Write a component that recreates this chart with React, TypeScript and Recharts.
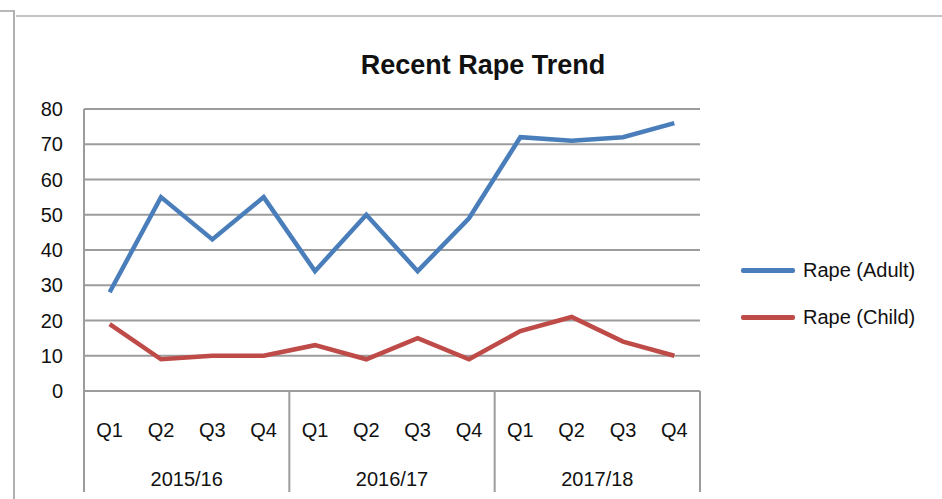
import { LineChart, Line, XAxis, YAxis, CartesianGrid } from 'recharts'

const quarters = ['Q1', 'Q2', 'Q3', 'Q4', 'Q1', 'Q2', 'Q3', 'Q4', 'Q1', 'Q2', 'Q3', 'Q4']
const years = ['2015/16', '2016/17', '2017/18']
const adult = [28, 55, 43, 55, 34, 50, 34, 49, 72, 71, 72, 76]
const child = [19, 9, 10, 10, 13, 9, 15, 9, 17, 21, 14, 10]
const yTicks = [0, 10, 20, 30, 40, 50, 60, 70, 80]

const series = [
  { key: 'adult', name: 'Rape (Adult)', color: '#4a7ebb' },
  { key: 'child', name: 'Rape (Child)', color: '#be4b48' },
]

const data = quarters.map((q, i) => ({
  q,
  year: years[Math.floor(i / 4)],
  adult: adult[i],
  child: child[i],
}))

const FONT = '"Liberation Sans", Arial, sans-serif'
const GRID = '#9c9c9c'
const Q_AXIS_H = 60
const PLOT_W = 616
// half of one category band, Excel-style points sit in the middle of each band
const HALF_BAND = PLOT_W / quarters.length / 2

const QuarterTick = (props: any) => {
  const { x, y, payload } = props
  return (
    <text x={x} y={y + 46} textAnchor="middle" fontSize={20} fill="#111" fontFamily={FONT}>
      {payload.value}
    </text>
  )
}

const YearTick = (props: any) => {
  const { x, y, index } = props
  const off = HALF_BAND
  return (
    <g>
      {index % 4 === 0 && (
        <line x1={x - off} x2={x - off} y1={y - Q_AXIS_H} y2={y + 41} stroke={GRID} strokeWidth={2} />
      )}
      {index === quarters.length - 1 && (
        <line x1={x + off} x2={x + off} y1={y - Q_AXIS_H} y2={y + 41} stroke={GRID} strokeWidth={2} />
      )}
      {index % 4 === 1 && (
        <text x={x + off} y={y + 35} textAnchor="middle" fontSize={20} fill="#111" fontFamily={FONT}>
          {years[Math.floor(index / 4)]}
        </text>
      )}
    </g>
  )
}

export default function App() {
  return (
    <div style={{ position: 'fixed', left: 0, top: 0, width: 942, height: 499, background: '#fff', fontFamily: FONT }}>
      {/* outer frame */}
      <div style={{ position: 'absolute', left: 0, top: 10, width: 15, height: 2, background: '#b8b8b8' }} />
      <div style={{ position: 'absolute', left: 13, top: 10, width: 2, height: 489, background: '#b0b0b0' }} />
      <div style={{ position: 'absolute', left: 16, top: 15, width: 926, height: 2, background: '#c4c4c4' }} />
      <div
        style={{
          position: 'absolute',
          left: 0,
          width: 966,
          top: 50,
          textAlign: 'center',
          fontSize: 27,
          fontWeight: 'bold',
          color: '#111',
        }}
      >
        Recent Rape Trend
      </div>
      <div style={{ position: 'absolute', left: 741, top: 247 }}>
        {series.map((s) => (
          <div key={s.key} style={{ display: 'flex', alignItems: 'center', height: 47 }}>
            <div style={{ width: 54, height: 5, background: s.color, borderRadius: 2, marginRight: 8 }} />
            <span style={{ fontSize: 20, color: '#111' }}>{s.name}</span>
          </div>
        ))}
      </div>
      <LineChart width={942} height={499} data={data} margin={{ top: 109, right: 242, bottom: 0, left: 0 }}>
        <CartesianGrid xAxisId="q" vertical={false} stroke={GRID} strokeWidth={2} />
        <XAxis
          xAxisId="q"
          dataKey="q"
          padding={{ left: HALF_BAND, right: HALF_BAND }}
          height={Q_AXIS_H}
          axisLine={{ stroke: GRID, strokeWidth: 2 }}
          tickLine={false}
          tickSize={0}
          tickMargin={0}
          interval={0}
          tick={<QuarterTick />}
        />
        <XAxis
          xAxisId="yr"
          dataKey="q"
          padding={{ left: HALF_BAND, right: HALF_BAND }}
          height={48}
          axisLine={false}
          tickLine={false}
          tickSize={0}
          tickMargin={0}
          interval={0}
          tick={<YearTick />}
        />
        <YAxis
          width={84}
          domain={[0, 80]}
          ticks={yTicks}
          interval={0}
          axisLine={{ stroke: GRID, strokeWidth: 2 }}
          tickLine={false}
          tickSize={0}
          tickMargin={21}
          tick={{ fontSize: 20, fill: '#111', fontFamily: FONT }}
        />
        {series.map((s) => (
          <Line
            key={s.key}
            xAxisId="q"
            type="linear"
            dataKey={s.key}
            name={s.name}
            stroke={s.color}
            strokeWidth={4.5}
            dot={false}
            isAnimationActive={false}
          />
        ))}
      </LineChart>
    </div>
  )
}
